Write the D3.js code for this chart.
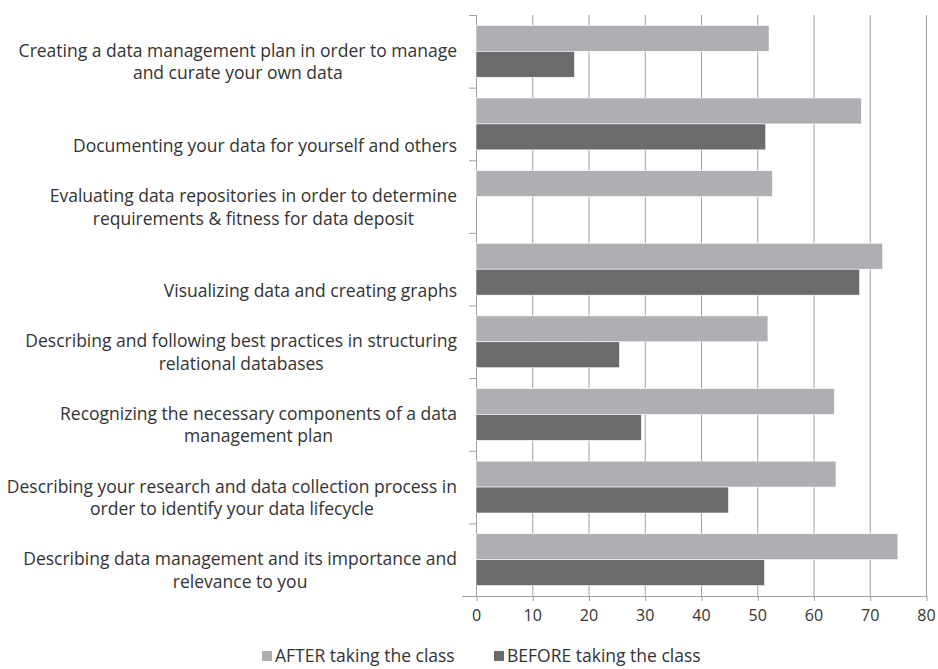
<!DOCTYPE html>
<html>
<head>
<meta charset="utf-8">
<script src="https://cdn.jsdelivr.net/npm/d3@7"></script>
<style>
  body { margin: 0; background: #fff; }
  text { font-family: 'Open Sans', sans-serif; fill: #333; }
</style>
</head>
<body>
<svg id="chart" width="938" height="669"></svg>
<script>
// categories, top to bottom (each entry is the wrapped label lines)
const categories = [
  ['Creating a data management plan in order to manage', 'and curate your own data'],
  ['Documenting your data for yourself and others'],
  ['Evaluating data repositories in order to determine', 'requirements & fitness for data deposit'],
  ['Visualizing data and creating graphs'],
  ['Describing and following best practices in structuring', 'relational databases'],
  ['Recognizing the necessary components of a data', 'management plan'],
  ['Describing your research and data collection process in', 'order to identify your data lifecycle'],
  ['Describing data management and its importance and', 'relevance to you'],
];
const afterValues = [52.1, 68.5, 52.7, 72.3, 51.9, 63.7, 64.0, 75.0];
const beforeValues = [17.5, 51.5, 0, 68.2, 25.5, 29.4, 44.9, 51.3];
const seriesNames = ['AFTER taking the class', 'BEFORE taking the class'];
const xTicks = [0, 10, 20, 30, 40, 50, 60, 70, 80];

const colors = ['#aeafb2', '#6b6b6d'];
const gridColor = '#a0a0a0';

const svg = d3.select('#chart');
const margin = { top: 15, left: 476, right: 12, bottom: 73 };
const width = 938 - margin.left - margin.right;
const height = 669 - margin.top - margin.bottom;

const x = d3.scaleLinear().domain([0, 80]).range([0, width]);
const y = d3.scaleBand().domain(d3.range(categories.length)).range([0, height]);
const inner = d3.scaleBand().domain([0, 1]).range([0, y.bandwidth()])
  .paddingInner(0).paddingOuter(0.4);

const g = svg.append('g').attr('transform', `translate(${margin.left},${margin.top})`);

// vertical gridlines
g.append('g').selectAll('line')
  .data(xTicks)
  .join('line')
  .attr('x1', d => x(d) + 0.5)
  .attr('x2', d => x(d) + 0.5)
  .attr('y1', 0)
  .attr('y2', height)
  .attr('stroke', gridColor)
  .attr('stroke-width', 1);

// bars
const rows = categories.map((c, i) => [afterValues[i], beforeValues[i]]);
const groups = g.append('g').selectAll('g')
  .data(rows)
  .join('g')
  .attr('transform', (d, i) => `translate(0,${y(i)})`);

groups.selectAll('rect')
  .data(d => d.map((v, k) => ({ v, k })))
  .join('rect')
  .attr('x', 0)
  .attr('y', d => inner(d.k))
  .attr('width', d => x(d.v))
  .attr('height', inner.bandwidth())
  .attr('fill', d => colors[d.k])
  .attr('stroke', '#fff')
  .attr('stroke-width', 0.6);

// bottom axis
const xAxis = g.append('g')
  .attr('transform', `translate(0,${height})`)
  .call(d3.axisBottom(x).tickValues(xTicks).tickSize(5).tickPadding(9).tickSizeOuter(0));
xAxis.select('.domain').attr('stroke', gridColor).attr('d', `M-14,0.5H${width + 1}`);
xAxis.selectAll('.tick line').attr('stroke', gridColor).attr('transform', 'translate(0.5,0)');
xAxis.selectAll('.tick text').attr('font-size', 16).attr('fill', '#333')
  .style('font-family', "'Open Sans', sans-serif");

// left category ticks at band boundaries
g.append('g').selectAll('line')
  .data(d3.range(categories.length + 1))
  .join('line')
  .attr('x1', -7)
  .attr('x2', 0)
  .attr('y1', d => (d < categories.length ? y(d) : height) + 0.5)
  .attr('y2', d => (d < categories.length ? y(d) : height) + 0.5)
  .attr('stroke', gridColor);

// category labels: centred block, right edge at x=457, last line sits below band centre
const labelG = svg.append('g');
categories.forEach((lines, i) => {
  const cy = margin.top + y(i) + y.bandwidth() / 2;
  const t = labelG.append('text')
    .attr('font-size', 17.5)
    .attr('text-anchor', 'middle');
  lines.forEach((ln, j) => {
    const off = 22 - (lines.length - 1 - j) * 22.5;
    t.append('tspan').attr('x', 0).attr('y', cy + off + 6).text(ln);
  });
  const w = d3.max(t.selectAll('tspan').nodes(), n => n.getComputedTextLength());
  t.selectAll('tspan').attr('x', 457 - w / 2);
});

// legend
const legend = svg.append('g').attr('transform', 'translate(0,657)');
const legendX = [262, 494];
seriesNames.forEach((name, k) => {
  legend.append('rect')
    .attr('x', legendX[k]).attr('y', -6)
    .attr('width', 10).attr('height', 10)
    .attr('fill', colors[k]);
  legend.append('text')
    .attr('x', legendX[k] + 13).attr('y', 5)
    .attr('font-size', 17.5)
    .text(name);
});
</script>
</body>
</html>
